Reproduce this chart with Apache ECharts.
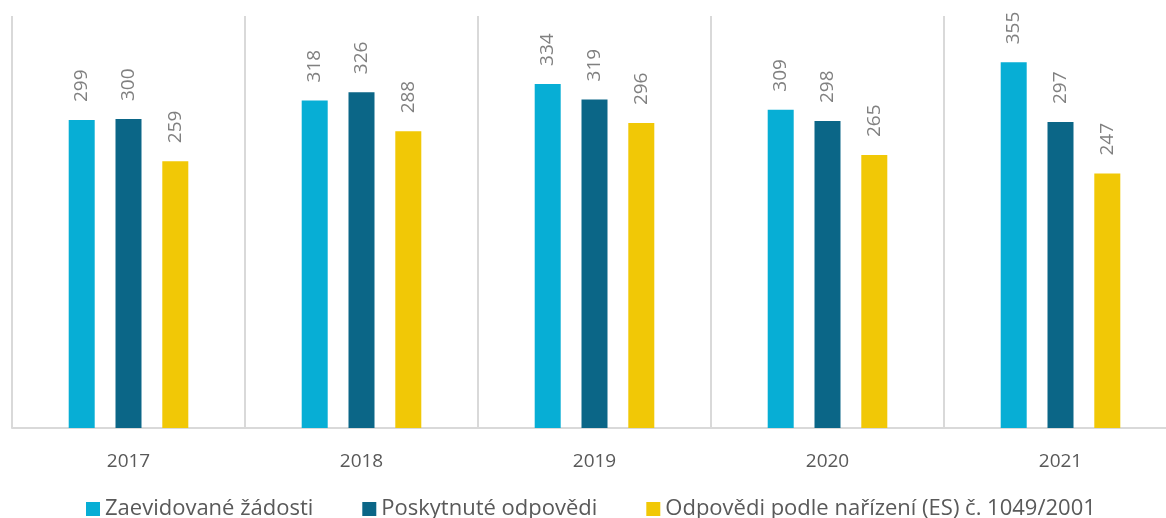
<!DOCTYPE html>
<html>
<head>
<meta charset="utf-8">
<script src="https://cdn.jsdelivr.net/npm/echarts@6/dist/echarts.min.js"></script>
<style>
  html, body { margin: 0; padding: 0; background: #fff; }
  #main { width: 1166px; height: 518px; }
</style>
</head>
<body>
<div id="main"></div>
<script>
var years = ["2017", "2018", "2019", "2020", "2021"];
var zaevidovane = [299, 318, 334, 309, 355];
var poskytnute = [300, 326, 319, 298, 297];
var podleNarizeni = [259, 288, 296, 265, 247];

var myChart = echarts.init(document.getElementById("main"));

// popisky nad sloupci, otočené svisle
var barLabel = {
  show: true,
  position: "top",
  rotate: 90,
  align: "left",
  verticalAlign: "middle",
  distance: 18,
  color: "#808080",
  fontSize: 19,
  fontFamily: "Open Sans"
};

myChart.setOption({
  animation: false,
  textStyle: { fontFamily: "Open Sans" },
  legend: {
    top: 498,
    left: 86,
    padding: 0,
    icon: "rect",
    itemWidth: 14,
    itemHeight: 14,
    itemGap: 49,
    textStyle: { color: "#595959", fontSize: 22, fontFamily: "Open Sans" },
    data: ["Zaevidované žádosti", "Poskytnuté odpovědi", "Odpovědi podle nařízení (ES) č. 1049/2001"]
  },
  // graf přesahuje vpravo za okraj
  grid: { left: 12, top: 16, width: 1165, height: 412, outerBoundsMode: "none", containLabel: false },
  xAxis: {
    type: "category",
    data: years,
    axisLine: { lineStyle: { color: "#d9d9d9", width: 2 } },
    axisTick: { show: false },
    splitLine: { show: true, lineStyle: { color: "#d9d9d9", width: 2 } },
    axisLabel: { color: "#595959", fontSize: 19, margin: 24, fontFamily: "Open Sans" }
  },
  yAxis: {
    type: "value",
    min: 0,
    max: 400,
    show: false,
    splitLine: { show: false }
  },
  series: [
    {
      name: "Zaevidované žádosti",
      type: "bar",
      data: zaevidovane,
      barWidth: 26,
      barGap: "80%",
      itemStyle: { color: "#07aed5" },
      label: barLabel
    },
    {
      name: "Poskytnuté odpovědi",
      type: "bar",
      data: poskytnute,
      barWidth: 26,
      barGap: "80%",
      itemStyle: { color: "#0b6687" },
      label: barLabel
    },
    {
      name: "Odpovědi podle nařízení (ES) č. 1049/2001",
      type: "bar",
      data: podleNarizeni,
      barWidth: 26,
      barGap: "80%",
      itemStyle: { color: "#f1c806" },
      label: barLabel
    }
  ]
});
</script>
</body>
</html>
